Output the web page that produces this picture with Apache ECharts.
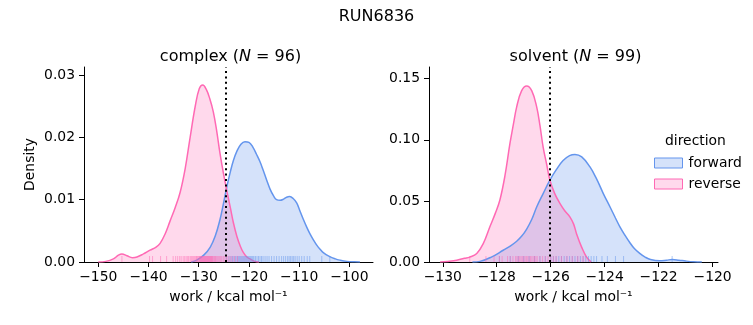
<!DOCTYPE html>
<html>
<head>
<meta charset="utf-8">
<script src="https://cdn.jsdelivr.net/npm/echarts@6/dist/echarts.min.js"></script>
<style>
html,body{margin:0;padding:0;background:#fff;}
#c{width:753px;height:325px;}
</style>
</head>
<body>
<div id="c"></div>
<script>
// ---------- data ----------
const suptitle = 'RUN6836';
const panels = ['complex', 'solvent'];
const panelN = [96, 99];
const directions = ['forward', 'reverse'];

// complex panel KDE curves
const complexForwardX = [-131.5,-130.4,-129.0,-127.7,-126.7,-125.8,-125.1,-124.4,-123.7,-123.1,-122.4,-121.6,-120.8,-120.0,-119.2,-118.5,-117.8,-117.2,-116.5,-115.8,-115.1,-114.5,-113.8,-113.1,-112.5,-111.9,-111.2,-110.5,-109.9,-109.2,-108.5,-107.9,-107.2,-106.5,-105.8,-105.2,-104.0,-102.8,-101.9,-100.5,-99.0,-97.9];
const complexForwardD = [0,0.0003,0.0011,0.0024,0.0042,0.0067,0.0093,0.0121,0.0145,0.0163,0.0178,0.0189,0.0193,0.0192,0.0184,0.0173,0.0161,0.0148,0.0132,0.0117,0.0106,0.0100,0.0099,0.0101,0.0104,0.0105,0.0102,0.0095,0.0083,0.0069,0.0056,0.0046,0.0036,0.0027,0.0020,0.0015,0.0009,0.0005,0.0003,0.0001,0.00003,0];
const complexReverseX = [-150.0,-148.5,-147.0,-146.0,-145.3,-144.3,-143.2,-142.3,-141.0,-139.7,-138.5,-137.7,-136.7,-135.7,-134.7,-133.7,-132.7,-131.7,-130.7,-129.9,-129.2,-128.5,-127.8,-127.1,-126.4,-125.8,-125.1,-124.4,-123.7,-123.1,-122.4,-121.7,-121.1,-120.4,-119.6,-118.8,-118.0];
const complexReverseD = [0,0.0001,0.0005,0.0011,0.0013,0.0010,0.0007,0.0008,0.0013,0.0019,0.0024,0.0030,0.0045,0.0066,0.0087,0.0112,0.0150,0.0201,0.0250,0.0278,0.0284,0.0277,0.0262,0.0241,0.0209,0.0176,0.0143,0.0114,0.0087,0.0063,0.0041,0.0025,0.0015,0.0008,0.0004,0.0001,0];

// solvent panel KDE curves
const solventForwardX = [-128.9,-128.62,-128.2,-127.76,-127.5,-127.26,-127.08,-126.89,-126.7,-126.52,-126.28,-126.03,-125.78,-125.54,-125.3,-125.1,-124.85,-124.55,-124.3,-124.05,-123.8,-123.6,-123.44,-123.25,-123.07,-122.9,-122.7,-122.5,-122.3,-121.96,-121.7,-121.5,-121.25,-121.0,-120.7,-120.4];
const solventForwardD = [0,0.0005,0.004,0.0096,0.013,0.017,0.021,0.027,0.035,0.045,0.056,0.067,0.076,0.083,0.087,0.088,0.086,0.078,0.068,0.056,0.045,0.036,0.029,0.022,0.016,0.011,0.007,0.004,0.002,0.001,0.0015,0.002,0.0015,0.0008,0.0002,0];
const solventReverseX = [-130.1,-129.6,-129.2,-129.0,-128.74,-128.5,-128.25,-128.05,-127.88,-127.7,-127.51,-127.38,-127.26,-127.08,-126.89,-126.7,-126.52,-126.4,-126.28,-126.15,-126.03,-125.85,-125.66,-125.48,-125.29,-125.15,-125.04,-124.85,-124.67,-124.5];
const solventReverseD = [0,0.001,0.003,0.004,0.007,0.015,0.029,0.040,0.051,0.070,0.097,0.113,0.127,0.140,0.144,0.140,0.127,0.112,0.094,0.080,0.067,0.056,0.048,0.042,0.037,0.031,0.023,0.012,0.004,0];

// rug samples (individual work values)
const complexForwardRug = [-124.5,-124.0,-123.6,-123.3,-123.0,-122.7,-122.4,-122.2,-122.0,-121.8,-121.6,-121.4,-121.2,-121.0,-120.8,-120.6,-120.4,-120.2,-120.0,-119.8,-119.6,-119.4,-119.2,-119.0,-118.7,-118.4,-118.1,-117.8,-117.5,-117.2,-116.8,-116.4,-116.0,-115.5,-115.0,-114.5,-114.0,-113.5,-113.1,-112.7,-112.3,-112.0,-111.7,-111.4,-111.1,-110.8,-110.4,-110.0,-109.5,-109.0,-108.4,-107.9,-105.5,-103.9];
const complexReverseRug = [-145.3,-139.8,-139.2,-137.6,-136.4,-135.1,-134.6,-134.2,-133.8,-133.5,-133.1,-132.8,-132.5,-132.2,-132.0,-131.7,-131.5,-131.3,-131.1,-130.9,-130.7,-130.5,-130.4,-130.2,-130.1,-129.9,-129.8,-129.7,-129.6,-129.5,-129.4,-129.3,-129.2,-129.1,-129.0,-128.9,-128.8,-128.7,-128.6,-128.5,-128.4,-128.3,-128.2,-128.1,-128.0,-127.9,-127.8,-127.7,-127.6,-127.5,-127.4,-127.3,-127.2,-127.0,-126.9,-126.7,-126.6,-126.4,-126.2,-126.0,-125.8,-125.6,-125.4,-125.1,-124.8,-124.5,-124.2,-123.8,-123.4,-122.9,-122.3];
const solventForwardRug = [-127.9,-127.5,-127.2,-127.0,-126.8,-126.6,-126.4,-126.2,-126.0,-125.9,-125.8,-125.7,-125.6,-125.5,-125.4,-125.3,-125.2,-125.1,-125.0,-124.9,-124.8,-124.7,-124.6,-124.5,-124.4,-124.3,-124.1,-123.9,-123.6,-123.3,-121.5];
const solventReverseRug = [-129.0,-128.4,-128.1,-127.9,-127.8,-127.6,-127.5,-127.4,-127.3,-127.25,-127.2,-127.15,-127.1,-127.05,-127.0,-126.95,-126.9,-126.85,-126.8,-126.75,-126.7,-126.65,-126.6,-126.55,-126.5,-126.4,-126.3,-126.2,-126.1,-126.0,-125.9,-125.8,-125.6,-125.4,-125.2,-125.0,-124.8];

// dotted reference lines
const complexRefLine = -124.65;
const solventRefLine = -126.03;

// axes ranges and ticks
const complexXRange = [-152.85, -95.3];
const solventXRange = [-130.51, -119.8];
const complexYMax = 0.0313;
const solventYMax = 0.1596;
const complexXTicks = [-150,-140,-130,-120,-110,-100];
const solventXTicks = [-130,-128,-126,-124,-122,-120];
const complexYTicks = [0, 0.01, 0.02, 0.03];
const solventYTicks = [0, 0.05, 0.10, 0.15];

// ---------- styling ----------
const LINE = {forward: '#6495ED', reverse: '#FF69B4'};
const FILL = {forward: 'rgba(100,149,237,0.27)', reverse: 'rgba(255,105,180,0.25)'};
const FONT = 'DejaVu Sans';
const TICKFS = 13.9;

function zip(xs, ys){ return xs.map((x,i)=>[x, ys[i]]); }
function fmtX(v){ return v < 0 ? '\u2212' + Math.abs(v) : String(v); }

const grids = [
  {left: 84, top: 67, width: 289, height: 195},
  {left: 429, top: 67, width: 289, height: 195}
];

function xAxis(gi, range, ticks){
  return {
    type: 'value', gridIndex: gi, min: range[0], max: range[1],
    name: 'work / kcal mol\u207B\u00B9', nameLocation: 'middle', nameGap: 28,
    nameTextStyle: {fontFamily: FONT, fontSize: TICKFS, color: '#000'},
    axisLine: {show: true, onZero: false, lineStyle: {color: '#000', width: 1}},
    axisTick: {show: true, length: 5, lineStyle: {color: '#000'}, customValues: ticks},
    axisLabel: {show: true, customValues: ticks, formatter: fmtX, fontFamily: FONT, fontSize: TICKFS, color: '#000', margin: 8},
    splitLine: {show: false}
  };
}
function yAxis(gi, max, ticks, name){
  return {
    type: 'value', gridIndex: gi, min: 0, max: max,
    name: name, nameLocation: 'middle', nameGap: 47,
    nameTextStyle: {fontFamily: FONT, fontSize: TICKFS, color: '#000'},
    axisLine: {show: true, lineStyle: {color: '#000', width: 1}},
    axisTick: {show: true, length: 5, lineStyle: {color: '#000'}, customValues: ticks},
    axisLabel: {show: true, customValues: ticks, formatter: v => v.toFixed(2), fontFamily: FONT, fontSize: TICKFS, color: '#000', margin: 9},
    splitLine: {show: false}
  };
}

function kde(gi, dir, xs, ds){
  return {
    name: dir, type: 'line', xAxisIndex: gi, yAxisIndex: gi,
    data: zip(xs, ds), smooth: 0.4, showSymbol: false, symbol: 'none',
    lineStyle: {color: LINE[dir], width: 1.5},
    itemStyle: {color: LINE[dir]},
    areaStyle: {color: FILL[dir], opacity: 1},
    silent: true, z: 2
  };
}
function rug(gi, dir, vals){
  return {
    name: dir, type: 'scatter', xAxisIndex: gi, yAxisIndex: gi,
    data: vals.map(v => [v, 0]),
    symbol: 'rect', symbolSize: [1, 6], symbolOffset: [0, -3],
    itemStyle: {color: LINE[dir], opacity: 0.5},
    silent: true, z: 3
  };
}
function refLine(gi, v){
  return {
    type: 'line', xAxisIndex: gi, yAxisIndex: gi, data: [], silent: true,
    markLine: {
      symbol: 'none', silent: true, animation: false,
      label: {show: false},
      lineStyle: {color: '#000', width: 2, type: [2, 3.4]},
      data: [{xAxis: v}]
    },
    z: 5
  };
}

const titleStyle = {fontFamily: FONT, fontSize: 16, fontWeight: 'normal', color: '#000'};
function panelTitle(i){
  return {
    text: panels[i] + ' ({it|N} = ' + panelN[i] + ')',
    left: grids[i].left + grids[i].width/2 - 3, top: 44, textAlign: 'center',
    textStyle: Object.assign({}, titleStyle, {rich: {it: {fontFamily: FONT, fontSize: 16, fontStyle: 'italic', color: '#000'}}})
  };
}

const option = {
  animation: false,
  backgroundColor: '#fff',
  title: [
    {text: suptitle, left: 'center', top: 4, textStyle: titleStyle},
    panelTitle(0), panelTitle(1)
  ],
  grid: grids,
  xAxis: [xAxis(0, complexXRange, complexXTicks), xAxis(1, solventXRange, solventXTicks)],
  yAxis: [yAxis(0, complexYMax, complexYTicks, 'Density'), yAxis(1, solventYMax, solventYTicks, '')],
  legend: {
    orient: 'vertical', left: 649, top: 151, itemWidth: 28, itemHeight: 10, itemGap: 7,
    icon: 'rect', selectedMode: false,
    textStyle: {fontFamily: FONT, fontSize: TICKFS, color: '#000', padding: [0,0,0,1]},
    data: directions.map(d => ({name: d, icon: 'rect', itemStyle: {color: FILL[d], borderColor: LINE[d], borderWidth: 1}}))
  },
  graphic: [{
    type: 'text', left: 665, top: 134,
    style: {text: 'direction', fontFamily: FONT, fontSize: TICKFS, fill: '#000', align: 'left'}
  }],
  series: [
    kde(0, 'forward', complexForwardX, complexForwardD),
    kde(0, 'reverse', complexReverseX, complexReverseD),
    rug(0, 'forward', complexForwardRug),
    rug(0, 'reverse', complexReverseRug),
    refLine(0, complexRefLine),
    kde(1, 'forward', solventForwardX, solventForwardD),
    kde(1, 'reverse', solventReverseX, solventReverseD),
    rug(1, 'forward', solventForwardRug),
    rug(1, 'reverse', solventReverseRug),
    refLine(1, solventRefLine)
  ]
};

const chart = echarts.init(document.getElementById('c'), null, {renderer: 'canvas'});
chart.setOption(option);
</script>
</body>
</html>
